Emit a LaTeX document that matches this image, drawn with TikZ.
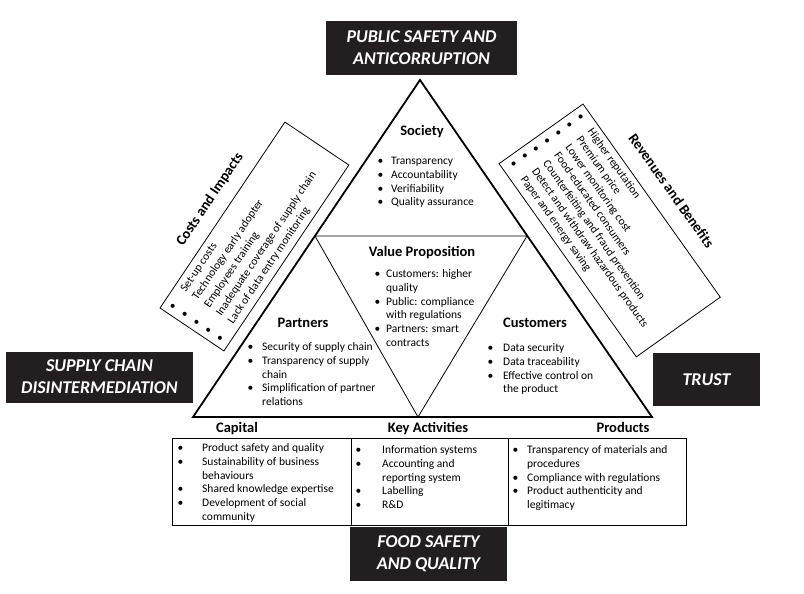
\documentclass[tikz,border=0pt]{standalone}
\usepackage{fontspec}
\setmainfont{Carlito}
\definecolor{labbg}{RGB}{35,31,32}
\newlength\bw
\newcommand\bi[1]{\makebox[\bw][l]{\textbullet}#1}
\newcommand\ci[1]{\hspace*{\bw}#1}
\newcommand\blist[2]{\setlength\bw{#1}\begin{tabular}[t]{@{}l@{}}#2\end{tabular}}
\tikzset{
  blistnode/.style={anchor=base west, inner sep=0pt, font=\fontsize{11.5}{13.8}\selectfont},
  heading/.style={anchor=base, inner sep=0pt, font=\fontsize{14.5}{16}\selectfont\bfseries},
  labbox/.style={fill=labbg, text=white, inner sep=0pt, align=center,
    font=\fontsize{18}{22}\selectfont\bfseries\itshape},
  outer/.style={line width=1.8pt, line join=miter},
  inner/.style={line width=0.8pt},
  thinbox/.style={line width=0.8pt},
  tablebox/.style={line width=0.9pt}
}
\begin{document}
\begin{tikzpicture}[x=1pt,y=1pt]
\fill[white] (0,0) rectangle (804,-594);
\useasboundingbox (0,0) rectangle (804,-594);

% main triangle
\coordinate (A) at (420,-80);
\coordinate (BL) at (193,-417);
\coordinate (BR) at (652,-417);
\coordinate (P1) at (315,-236);
\coordinate (P2) at (527,-236);
\coordinate (P3) at (418,-417);
\draw[inner] (P1) -- (P2) -- (P3) -- cycle;
\draw[outer] (A) -- (BL) -- (BR) -- cycle;

% black labels
\node[labbox, minimum width=191pt, minimum height=54pt] (pub) at (421.5,-48) {PUBLIC SAFETY AND\\ANTICORRUPTION};
\node[labbox, minimum width=187pt, minimum height=51pt] (sup) at (99.5,-377) {SUPPLY CHAIN\\DISINTERMEDIATION};
\node[labbox, minimum width=107pt, minimum height=53pt] (trust) at (706.5,-379.5) {TRUST};
\node[labbox, minimum width=157pt, minimum height=54pt] (food) at (428.5,-554) {FOOD SAFETY\\AND QUALITY};

% triangle headings and lists
\node[heading] (soc) at (422,-135.5) {Society};
\node[blistnode] (socl) at (377.5,-164.5) {\blist{13.5pt}{\bi{Transparency}\\\bi{Accountability}\\\bi{Verifiability}\\\bi{Quality assurance}}};

\node[heading] (vp) at (422,-256.5) {Value Proposition};
\node[blistnode] (vpl) at (374.5,-277.5) {\blist{11.5pt}{\bi{Customers: higher}\\\ci{quality}\\\bi{Public: compliance}\\\ci{with regulations}\\\bi{Partners: smart}\\\ci{contracts}}};

\node[heading] (par) at (303,-327.5) {Partners};
\node[blistnode] (parl) at (247.5,-350.5) {\blist{14.5pt}{\bi{Security of supply chain}\\\bi{Transparency of supply}\\\ci{chain}\\\bi{Simplification of partner}\\\ci{relations}}};

\node[heading] (cus) at (535,-327.5) {Customers};
\node[blistnode] (cusl) at (487.5,-351.5) {\blist{15.5pt}{\bi{Data security}\\\bi{Data traceability}\\\bi{Effective control on}\\\ci{the product}}};

% bottom table
\draw[tablebox] (172,-438) rectangle (351,-525);
\draw[tablebox] (351,-438) rectangle (508,-525);
\draw[tablebox] (508,-438) rectangle (686,-525);
\node[heading] (cap) at (237,-432.5) {Capital};
\node[heading] (key) at (428,-432.5) {Key Activities};
\node[heading] (pro) at (623,-432.5) {Products};
\node[blistnode] (capl) at (177.5,-451.5) {\blist{24.5pt}{\bi{Product safety and quality}\\\bi{Sustainability of business}\\\ci{behaviours}\\\bi{Shared knowledge expertise}\\\bi{Development of social}\\\ci{community}}};
\node[blistnode] (keyl) at (355.5,-453.5) {\blist{26.5pt}{\bi{Information systems}\\\bi{Accounting and}\\\ci{reporting system}\\\bi{Labelling}\\\bi{R\&D}}};
\node[blistnode] (prol) at (512.5,-453.5) {\blist{14.5pt}{\bi{Transparency of materials and}\\\ci{procedures}\\\bi{Compliance with regulations}\\\bi{Product authenticity and}\\\ci{legitimacy}}};

% Costs and Impacts box
\begin{scope}[shift={(160,-308)}, rotate=56.1, transform shape]
  \draw[thinbox] (0,-77) rectangle (224,0);
  \node[anchor=center, inner sep=0pt, font=\fontsize{14.5}{16}\selectfont\bfseries] (costt) at (118,19) {Costs and Impacts};
  \node[blistnode, font=\fontsize{11.5}{14.2}\selectfont] (costl) at (5.5,-13) {\blist{21.5pt}{\bi{Set-up costs}\\\bi{Technology early adopter}\\\bi{Employees training}\\\bi{Inadequate coverage of supply chain}\\\bi{Lack of data entry monitoring}}};
\end{scope}

% Revenues and Benefits box
\begin{scope}[shift={(583,-104)}, rotate=-54.6, transform shape]
  \draw[thinbox] (0,-103) rectangle (237,0);
  \node[anchor=center, inner sep=0pt, font=\fontsize{14.5}{16}\selectfont\bfseries] (revt) at (122,22) {Revenues and Benefits};
  \node[blistnode, font=\fontsize{11.5}{13.7}\selectfont] (revl) at (6,-12.5) {\blist{19pt}{\bi{Higher reputation}\\\bi{Premium price}\\\bi{Lower monitoring cost}\\\bi{Food-educated consumers}\\\bi{Counterfeiting and fraud prevention}\\\bi{Detect and withdraw hazardous products}\\\bi{Paper and energy saving}}};
\end{scope}
\end{tikzpicture}
\end{document}
